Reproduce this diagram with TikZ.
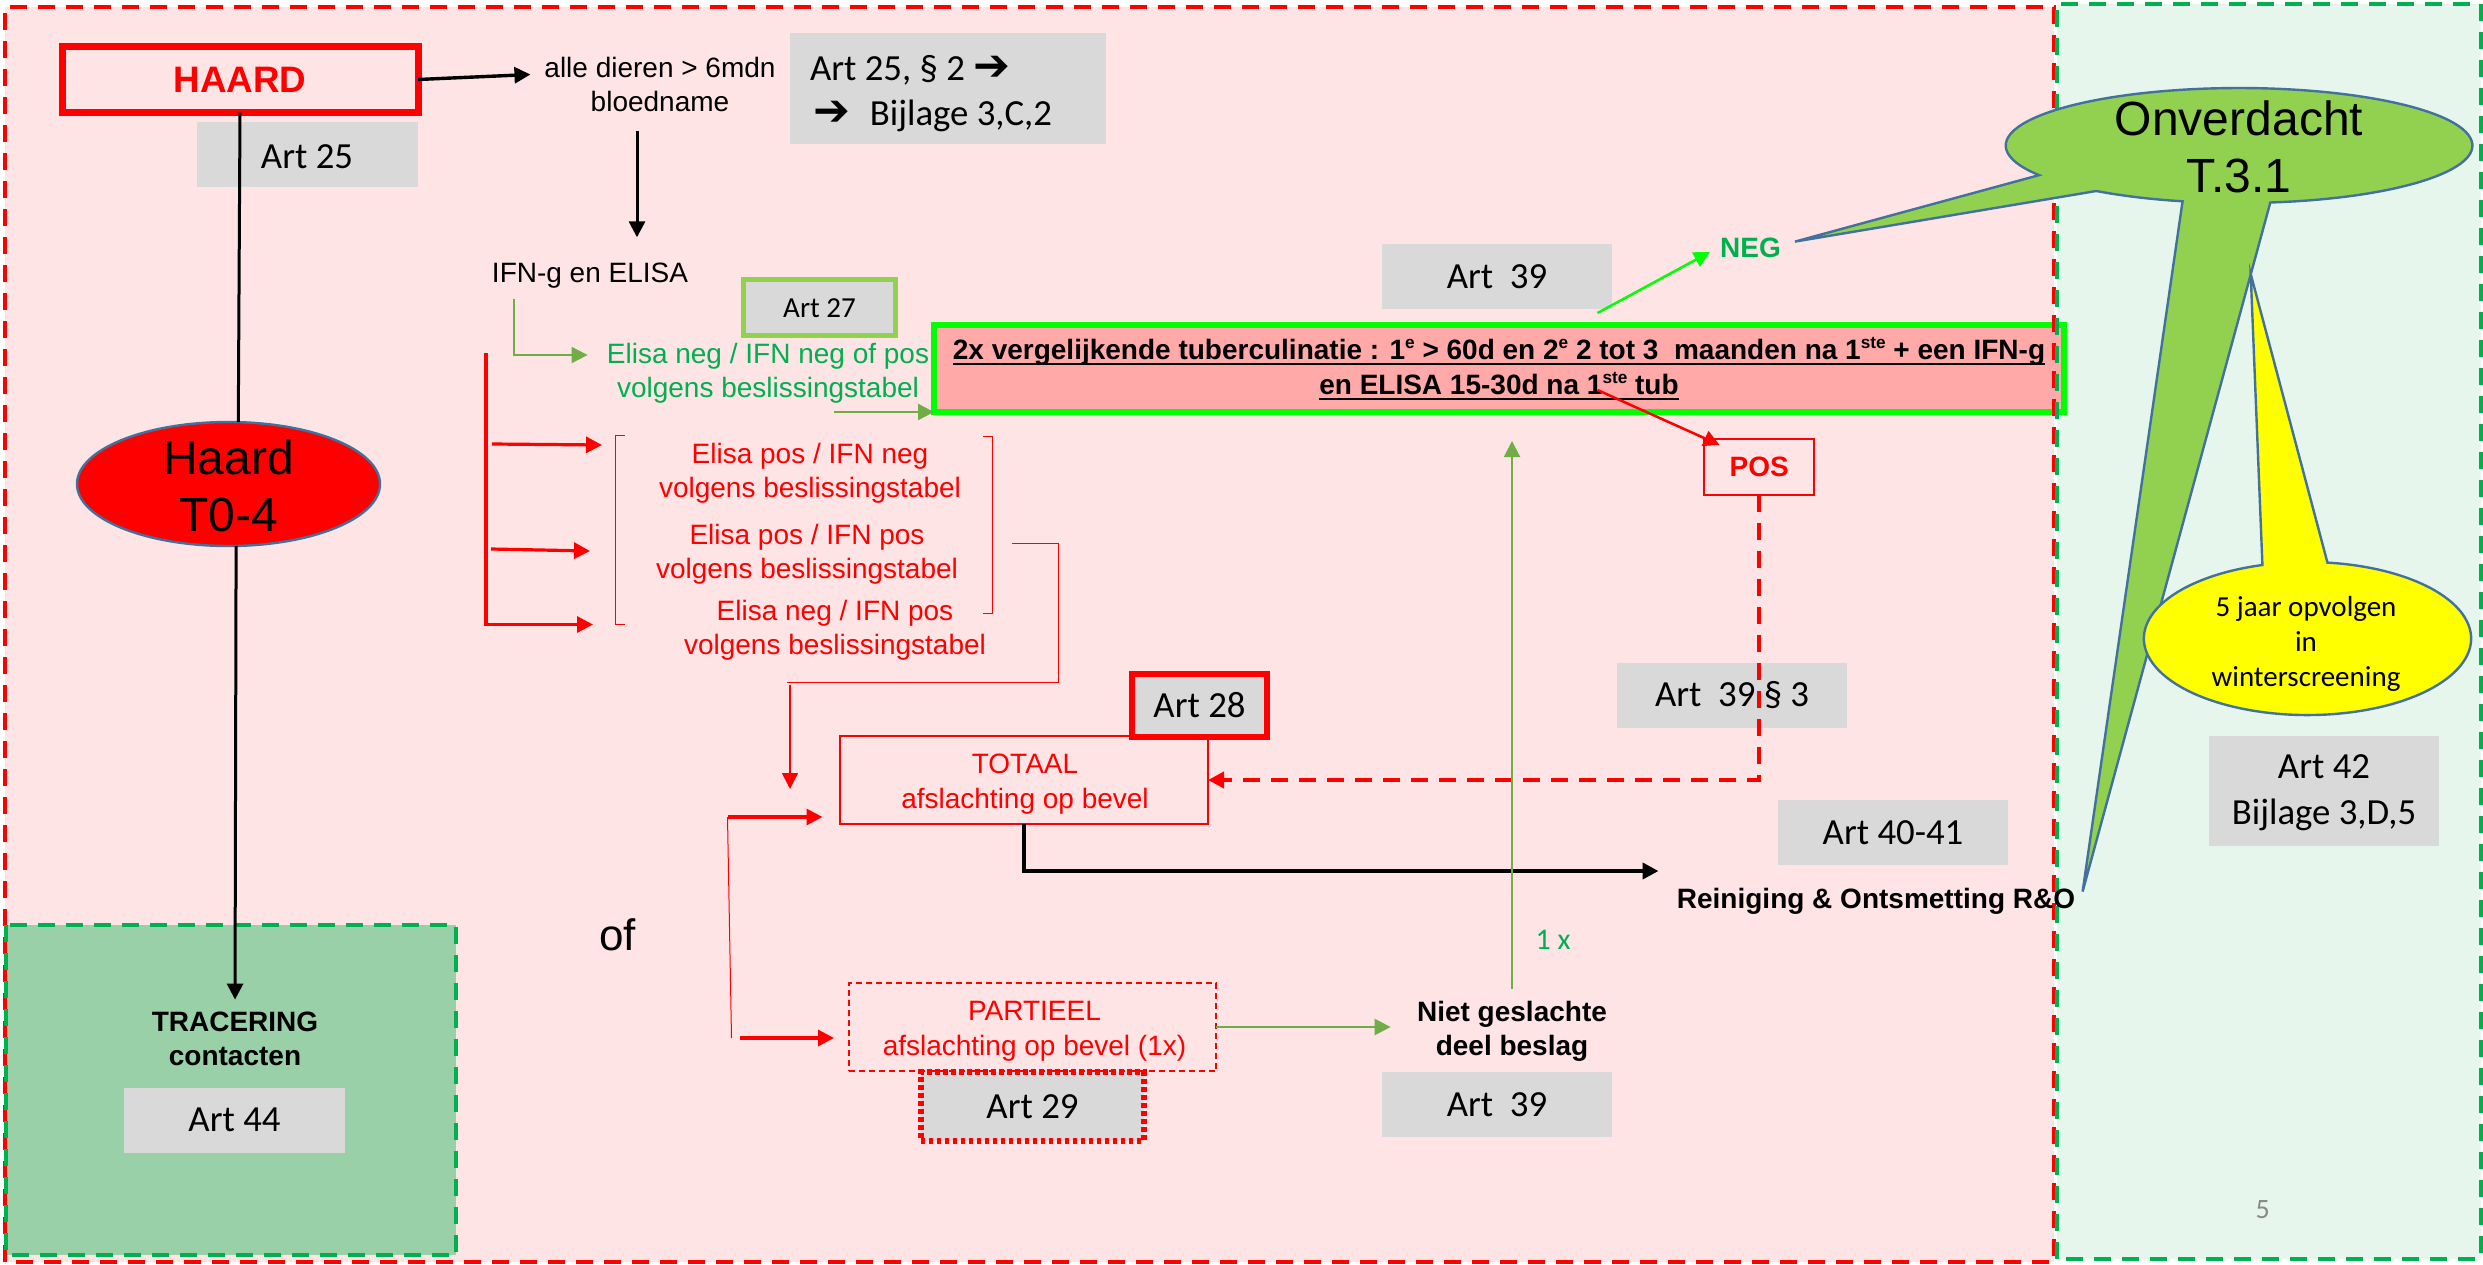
\documentclass[tikz,border=0pt]{standalone}
\usepackage{fontspec}
\setmainfont{Liberation Sans}
\newfontfamily\carl{Carlito}
\newfontfamily\dejv{DejaVu Sans}
\usetikzlibrary{arrows.meta,shapes.geometric,calc}
\newcommand{\thickul}[1]{\setbox0=\hbox{#1}\leavevmode\rlap{\copy0}\rlap{\vrule width\wd0 height -1.6pt depth 2.6pt}\hspace*{\wd0}}
\newcommand{\supmark}[1]{\raisebox{.42em}{\fontsize{8.6pt}{9pt}\selectfont #1}}
\newcommand{\heavyarrow}{{\dejv\bfseries\fontsize{22pt}{23pt}\selectfont ➔}}
\definecolor{pinkBg}{HTML}{FEE4E4}
\definecolor{greenBg}{HTML}{E6F6EC}
\definecolor{darkBg}{HTML}{99D0A8}
\definecolor{greyBox}{HTML}{D9D9D9}
\definecolor{salmon}{HTML}{FFA9A9}
\definecolor{olive}{HTML}{70AD47}
\definecolor{leaf}{HTML}{92D050}
\definecolor{lime}{HTML}{00FF00}
\definecolor{grn}{HTML}{00B050}
\definecolor{edge}{HTML}{41719C}
\definecolor{pageno}{HTML}{898989}
\definecolor{yel}{HTML}{FFFF00}
\tikzset{
 txt/.style={inner sep=0pt,outer sep=0pt,align=center,font=\fontsize{14pt}{17pt}\selectfont},
 btxt/.style={inner sep=0pt,outer sep=0pt,align=center,font=\bfseries\fontsize{14pt}{17pt}\selectfont},
 bigtxt/.style={inner sep=0pt,outer sep=0pt,align=center,font=\fontsize{24pt}{28.5pt}\selectfont},
 arttxt/.style={inner sep=0pt,outer sep=0pt,align=center,font=\carl\fontsize{18.4pt}{23pt}\selectfont},
 greybox/.style={fill=greyBox,inner sep=0pt,outer sep=0pt,align=center,font=\carl\fontsize{18.4pt}{23pt}\selectfont},
 redrect/.style={draw=red,line width=1.25pt,inner sep=0pt,outer sep=0pt,align=center,text=red,font=\fontsize{14pt}{17.3pt}\selectfont},
 head/.style={-{Triangle[length=8pt,width=8pt]}},
 blackarrow/.style={head,draw=black,line width=1.5pt},
 oliveline/.style={draw=olive,line width=1pt},
 redthin/.style={draw=red,line width=.5pt},
 redthick/.style={draw=red,line width=1.6pt},
 reddash/.style={draw=red,line width=2pt,dash pattern=on 8.5pt off 5.5pt},
 grndash/.style={draw=grn,line width=2pt,dash pattern=on 8.5pt off 5.5pt},
 balloon/.style={draw=edge,line width=1.2pt,line join=miter},
}
\begin{document}
\begin{tikzpicture}[x=0.5pt,y=-0.5pt]
\useasboundingbox (0,0) rectangle (2483,1264);
\fill[white] (0,0) rectangle (2483,1264);
% panels
\fill[pinkBg] (5,7) rectangle (2054,1262);
\fill[greenBg] (2056.5,3.7) rectangle (2480.6,1259);
\fill[darkBg] (5.5,925) rectangle (456,1255);
% main box
\node[draw=lime,fill=salmon,line width=3pt,inner sep=0pt,outer sep=0pt,minimum width=565pt,minimum height=43.5pt,align=center,font=\bfseries\fontsize{14pt}{17.4pt}\selectfont] (main) at (1499,368.5)
 {\thickul{2x vergelijkende tuberculinatie : 1\supmark{e} > 60d en 2\supmark{e} 2 tot 3\ \ maanden na 1\supmark{ste} + een IFN-g}\\
  \thickul{en ELISA 15-30d na 1\supmark{ste} tub}};
% panel borders
\draw[reddash] (5,1262) -- (5,7) -- (2054,7) -- (2054,1262) -- cycle;
\draw[grndash] (2056.5,1259) -- (2056.5,3.7) -- (2480.6,3.7) -- (2480.6,1259) -- cycle;
\draw[grndash] (5.5,925) rectangle (456,1255);
% grey article boxes
\node[greybox,minimum width=110.5pt,minimum height=32.5pt] (a25) at (307.5,154.5) {};
\node[arttxt] (a25t) at (307,157) {Art 25};
\node[greybox,minimum width=158pt,minimum height=55.5pt] (a252) at (948,88.5) {};
\node[arttxt,anchor=west] (a252a) at (810,70) {Art 25, § 2 \heavyarrow};
\node[arttxt,anchor=west] (a252b) at (813,116) {\heavyarrow\hspace{10pt}Bijlage 3,C,2};
\node[greybox,draw=leaf,line width=2.5pt,minimum width=76pt,minimum height=27.75pt,font=\carl\fontsize{14.5pt}{17pt}\selectfont] (a27) at (819.5,307.7) {Art 27};
\node[greybox,minimum width=115pt,minimum height=32.5pt] (a39a) at (1497,276.5) {\raisebox{-1pt}{Art\ \ 39}};
\node[greybox,minimum width=115pt,minimum height=32.25pt] (a393) at (1732,695.3) {\raisebox{-1pt}{Art\ \ 39 § 3}};
\node[greybox,minimum width=115pt,minimum height=32.5pt] (a4041) at (1893,832.5) {\raisebox{-1pt}{Art 40-41}};
\node[greybox,minimum width=115pt,minimum height=55pt] (a42) at (2323.7,791) {};
\node[arttxt] (a42t) at (2324,793) {Art 42\\[0pt]Bijlage 3,D,5};
\node[greybox,minimum width=110.5pt,minimum height=32.25pt] (a44) at (234.5,1120.3) {\raisebox{-1pt}{Art 44}};
\node[greybox,minimum width=115pt,minimum height=32.3pt] (a39b) at (1497,1104.3) {Art\ \ 39};
\node[greybox,draw=red,line width=3.25pt,minimum width=67.5pt,minimum height=31.5pt] (a28) at (1199.5,705.5) {Art 28};
\node[greybox,draw=red,line width=3pt,dash pattern=on 2.2pt off 1.8pt,minimum width=111.5pt,minimum height=34.3pt] (a29) at (1032.5,1106.3) {Art 29};
% HAARD
\node[draw=red,line width=3.5pt,inner sep=0pt,outer sep=0pt,minimum width=178pt,minimum height=33pt,text=red,font=\bfseries\fontsize{18.4pt}{22pt}\selectfont] (haard) at (240,79.5) {HAARD};
\node[ellipse,draw=edge,fill=red,line width=1.2pt,inner sep=0pt,outer sep=0pt,minimum width=151.5pt,minimum height=62pt] (ell) at (228.5,484) {};
\node[bigtxt] (ellt) at (228.5,485.5) {Haard\\T0-4};
\node[txt] (alle) at (660,84) {alle dieren > 6mdn\\bloedname};
\node[txt] (ifn) at (590,276) {IFN-g en ELISA};
\node[txt,text=grn] (eneg) at (768,373.5) {Elisa neg / IFN neg of pos\\volgens beslissingstabel};
\node[txt,text=red] (t1) at (810,473) {Elisa pos / IFN neg\\volgens beslissingstabel};
\node[txt,text=red] (t2) at (807,554.5) {Elisa pos / IFN pos\\volgens beslissingstabel};
\node[txt,text=red] (t3) at (835,630) {Elisa neg / IFN pos\\volgens beslissingstabel};
\node[redrect,minimum width=184pt,minimum height=44pt] (totaal) at (1024,780) {};
\node[txt,text=red,font=\fontsize{14pt}{17.3pt}\selectfont] (tott) at (1025,784) {TOTAAL\\afslachting op bevel};
\node[redrect,line width=1pt,dash pattern=on 3pt off 2pt,minimum width=183.75pt,minimum height=44pt] (part) at (1032.3,1027) {};
\node[txt,text=red,font=\fontsize{14pt}{17.3pt}\selectfont] (partt) at (1034.5,1031) {PARTIEEL\\afslachting op bevel (1x)};
\node[redrect,line width=1pt,minimum width=54.75pt,minimum height=28pt,font=\bfseries\fontsize{14pt}{17pt}\selectfont] (pos) at (1759.2,467) {POS};
\node[btxt,text=grn] (neg) at (1750.5,248) {NEG};
\node[btxt] (niet) at (1512,1031) {Niet geslachte\\deel beslag};
\node[btxt] (rein) at (1876,901) {Reiniging \& Ontsmetting R\&O};
\node[btxt] (trac) at (235,1038.5) {TRACERING\\contacten};
\node[inner sep=0pt,font=\fontsize{22pt}{26pt}\selectfont] (of) at (617.6,934.5) {of};
\node[inner sep=0pt,text=grn,font=\carl\fontsize{15pt}{18pt}\selectfont] (onex) at (1553,940) {1 x};
\node[inner sep=0pt,text=pageno,font=\carl\fontsize{14pt}{18pt}\selectfont] (pno) at (2262.6,1210) {5};
% free connector ends
\coordinate (g1) at (587.6,355);
\coordinate (g2a) at (834,412);
\coordinate (r0) at (486,353);
\coordinate (r1) at (593,624.5);
\coordinate (r2a) at (492,444);
\coordinate (r2b) at (602,445);
\coordinate (r3a) at (491,549);
\coordinate (r3b) at (590,551);
\coordinate (e1) at (1012,543);
\coordinate (e2) at (1058,682);
\coordinate (e3) at (787,682);
\coordinate (e4) at (790,684.6);
\coordinate (e5) at (790,789);
\coordinate (f1) at (727.5,817);
\coordinate (f2) at (822.5,817);
\coordinate (f3) at (731.5,1038);
\coordinate (f4) at (740,1038);
\coordinate (f5) at (834,1038);
\coordinate (bk) at (1658.5,871);
\coordinate (n1) at (1597.5,313);
\coordinate (n2) at (1710,252);
\coordinate (p1) at (1597.5,390);
\coordinate (p2) at (1719.6,445);
\coordinate (nw) at (1390.6,1027);
% connectors
\draw[head,draw=black,line width=1.7pt,shorten >=7pt] (haard.east) -- (alle.175);
\draw[black,line width=1.5pt] (haard.south) -- (ell.81);
\draw[blackarrow,shorten >=6pt] (ell.-83) -- (trac.north);
\draw[blackarrow,shorten <=10pt,shorten >=13pt] ([xshift=-11.5pt]alle.south) -- ([xshift=23.5pt]ifn.north);
\draw[oliveline,head,shorten <=5pt] ([xshift=-38pt]ifn.south) |- (g1);
\draw[oliveline,head,line width=1.25pt] (g2a) -- (g2a -| main.west);
\draw[redthick,head] (r0) |- (r1);
\draw[redthick,head] (r2a) -- (r2b);
\draw[redthick,head] (r3a) -- (r3b);
\draw[redthin] (625,435) -- (615,435) -- (615,624.5) -- (625,624.5);
\draw[redthin] (983,436) -- (992.5,436) -- (992.5,613) -- (983,613);
\draw[redthin] (e1) -| (e2) -- (e3);
\draw[redthin,head,line width=.8pt] (e4) -- (e5);
\draw[redthick,head] (f1) -- (f2);
\draw[redthin] (f1) -- (f3);
\draw[redthick,head] (f4) -- (f5);
\draw[reddash,head] (pos.south) |- (totaal.east);
\draw[black,line width=2pt,head] (totaal.south) |- (bk);
\draw[oliveline,head,line width=1.25pt] (part.east) -- (nw);
\draw[oliveline,head,shorten <=6pt,shorten >=14.5pt] (niet.north) -- (niet.north |- main.south);
\draw[lime,head,line width=1.25pt] (n1) -- (n2);
\draw[red,head,line width=1.25pt] (p1) -- (p2);
% balloons
\draw[balloon,fill=leaf] (2270.3,202.5)
  arc[start angle=-82.3,end angle=211,x radius=116.67pt,y radius=28.75pt]
  -- (1795,241.6) -- (2096.3,191)
  arc[start angle=232.3,end angle=256,x radius=116.67pt,y radius=28.75pt]
  -- (2082.6,891.5) -- cycle;
\node[bigtxt] (ont) at (2239,147) {Onverdacht\\T.3.1};
\draw[balloon,fill=yel] (2262.4,565)
  arc[start angle=106,end angle=443,x radius=81.8pt,y radius=38.25pt]
  -- (2250.7,274) -- cycle;
\node[inner sep=0pt,outer sep=0pt,align=center,font=\carl\fontsize{14.5pt}{17.5pt}\selectfont] (yeltext) at (2306,644) {5 jaar opvolgen\\in\\winterscreening};
\end{tikzpicture}
\end{document}
